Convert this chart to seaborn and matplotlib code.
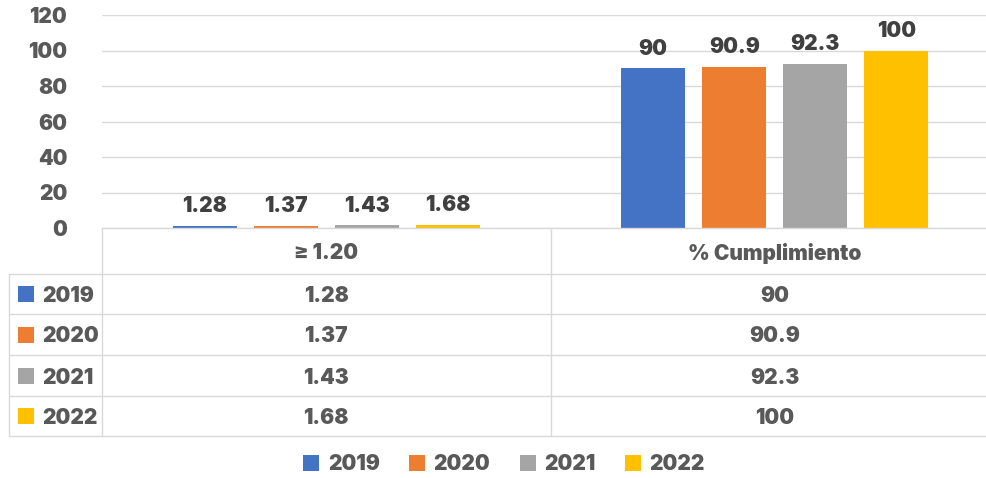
import matplotlib
matplotlib.use("Agg")
import matplotlib.pyplot as plt
import matplotlib.transforms as mtransforms
from matplotlib.lines import Line2D
from matplotlib.patches import Rectangle
import seaborn as sns
import pandas as pd

# ---- data ----
categories = ["\u2265 1.20", "% Cumplimiento"]
years = ["2019", "2020", "2021", "2022"]
values_2019 = [1.28, 90]
values_2020 = [1.37, 90.9]
values_2021 = [1.43, 92.3]
values_2022 = [1.68, 100]
colors = ["#4472C4", "#ED7D31", "#A5A5A5", "#FFC000"]
y_ticks = [0, 20, 40, 60, 80, 100, 120]

series = {"2019": values_2019, "2020": values_2020, "2021": values_2021, "2022": values_2022}
df = pd.DataFrame(
    [(c, y, series[y][i]) for y in years for i, c in enumerate(categories)],
    columns=["categoria", "anio", "valor"],
)


def fmt(v):
    return f"{v:g}"


sns.set_theme(style="white")
plt.rcParams["font.family"] = ["Inter", "DejaVu Sans"]
TXT = "#595959"
LBL = "#404040"
GRID = "#D9D9D9"
FW = 900
FS = 15

W, H = 987, 478
fig = plt.figure(figsize=(W / 100, H / 100), dpi=100)
fig.patch.set_facecolor("white")


def fx(px):
    return px / W


def fy(py):
    return 1 - py / H


ax_left, ax_right, ax_top, ax_bot = 102, 999, 15, 228
ax = fig.add_axes([fx(ax_left), fy(ax_bot), fx(ax_right - ax_left), (ax_bot - ax_top) / H])

sns.barplot(data=df, x="categoria", y="valor", hue="anio", palette=colors,
            width=0.723, gap=0.21, ax=ax, legend=False, saturation=1,
            linewidth=0, edgecolor="none")

ax.set_ylim(0, 120)
ax.set_yticks(y_ticks)
ax.set_yticklabels([str(t) for t in y_ticks], fontsize=FS, fontweight=FW, color=TXT)
ax.tick_params(axis="y", length=0, pad=25)
ax.tick_params(axis="x", length=0, labelbottom=False)
ax.set_xlabel("")
ax.set_ylabel("")
ax.yaxis.grid(True, color=GRID, linewidth=1)
ax.set_axisbelow(True)
for s in ["top", "right", "left"]:
    ax.spines[s].set_visible(False)
ax.spines["bottom"].set_color(GRID)
ax.spines["bottom"].set_linewidth(1)

# value labels above bars
for cont, yr in zip(ax.containers, years):
    ax.bar_label(cont, labels=[fmt(v) for v in series[yr]], padding=7,
                 fontsize=FS, fontweight=FW, color=LBL)

# ---- data table below the chart ----
row_edges = [228, 274, 314, 355, 396, 436]
col_edges = [9, 102, 551, 999]


def hline(y, x0, x1):
    fig.add_artist(Line2D([fx(x0), fx(x1)], [fy(y), fy(y)], color=GRID, lw=1))


def vline(x, y0, y1):
    fig.add_artist(Line2D([fx(x), fx(x)], [fy(y0), fy(y1)], color=GRID, lw=1))


for y in row_edges[1:]:
    hline(y, col_edges[0], W)
vline(col_edges[0], row_edges[1], row_edges[-1])
vline(col_edges[1], row_edges[0], row_edges[-1])
vline(col_edges[2], row_edges[0], row_edges[-1])

# x in data units, y in figure fraction
trans = mtransforms.blended_transform_factory(ax.transData, fig.transFigure)
for i, c in enumerate(categories):
    yc = (row_edges[0] + row_edges[1]) / 2
    fig.text(i, fy(yc), c, transform=trans, ha="center", va="center_baseline",
             fontsize=FS, fontweight=FW, color=TXT)
    for r, yr in enumerate(years):
        yc = (row_edges[r + 1] + row_edges[r + 2]) / 2
        fig.text(i, fy(yc), fmt(series[yr][i]), transform=trans, ha="center",
                 va="center_baseline", fontsize=FS, fontweight=FW, color=TXT)

for r, yr in enumerate(years):
    yc = (row_edges[r + 1] + row_edges[r + 2]) / 2
    fig.add_artist(Rectangle((fx(18), fy(yc + 8)), fx(16), 16 / H,
                             facecolor=colors[r], edgecolor="none"))
    fig.text(fx(42), fy(yc), yr, ha="left", va="center_baseline",
             fontsize=FS, fontweight=FW, color=TXT)

# ---- legend ----
handles = [Rectangle((0, 0), 1, 1, facecolor=c, edgecolor="none") for c in colors]
leg = fig.legend(handles, years, loc="center", bbox_to_anchor=(fx(504), fy(464)),
                 ncol=4, frameon=False, handlelength=0.77, handleheight=0.77,
                 handletextpad=0.42, columnspacing=1.4, borderpad=0,
                 prop={"size": FS, "weight": FW})
for t in leg.get_texts():
    t.set_color(TXT)

fig.savefig("out.png", dpi=100, facecolor="white")
